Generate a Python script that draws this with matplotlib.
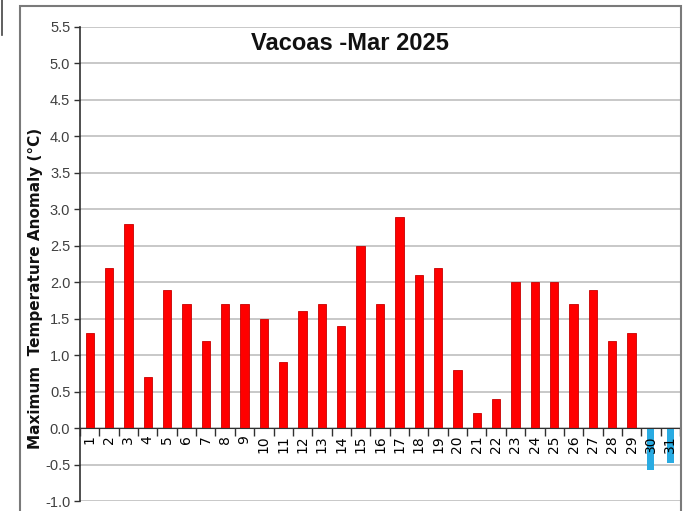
import numpy as np
import matplotlib
matplotlib.use("Agg")
import matplotlib.pyplot as plt
from matplotlib.patches import Rectangle
from matplotlib import font_manager

days = [str(d) for d in range(1, 32)]
anomaly = [1.3, 2.2, 2.8, 0.7, 1.9, 1.7, 1.2, 1.7, 1.7, 1.5,
           0.9, 1.6, 1.7, 1.4, 2.5, 1.7, 2.9, 2.1, 2.2, 0.8,
           0.2, 0.4, 2.0, 2.0, 2.0, 1.7, 1.9, 1.2, 1.3, np.nan, np.nan]
# days with no data yet, highlighted in blue under the label
missing_days = ["30", "31"]
highlight_depth = [-0.58, -0.48]
yticks = np.arange(-1.0, 5.51, 0.5)

installed = {f.name for f in font_manager.fontManager.ttflist}
narrow = [f for f in ["Liberation Sans Narrow", "Liberation Sans", "DejaVu Sans"]
          if f in installed]
tick_grey = "#404040"

fig = plt.figure(figsize=(6.83, 5.11), dpi=100)
ax = fig.add_axes([80 / 683, 1 - 501 / 511, 600 / 683, 474 / 511])

x = np.arange(len(days))
ax.bar(x, anomaly, width=0.43, color="#ff0000", edgecolor="#c80000",
       linewidth=0.6, zorder=2)

miss_x = [days.index(d) for d in missing_days]
ax.bar(miss_x, highlight_depth, width=0.36, color="#29abe2",
       linewidth=0, zorder=1)

ax.set_xlim(-0.5, len(days) - 0.5)
ax.set_ylim(-1.0, 5.5)
ax.set_xticks(np.arange(-0.5, len(days), 1.0), minor=True)
ax.tick_params(axis="x", which="major", length=0, pad=5, labelrotation=90)
ax.tick_params(axis="x", which="minor", length=6, width=1.0, color="#303030",
               direction="out")
ax.tick_params(axis="y", length=4, width=1.0, color="#303030", pad=3)

ax.set_yticks(yticks)
ax.set_yticklabels([f"{v:.1f}" for v in yticks], fontsize=10.5,
                   color=tick_grey, family=narrow)
ax.set_xticks(x)
ax.set_xticklabels(days, rotation=90, fontsize=9.5, color=tick_grey,
                   family=["Liberation Sans", "DejaVu Sans"])

ax.yaxis.grid(True, color="#c8c8c8", linewidth=1.4)
ax.yaxis.set_zorder(0.5)

# x axis line sits at zero
ax.spines["bottom"].set_position(("data", 0.0))
ax.spines["bottom"].set_color("#303030")
ax.spines["left"].set_color("#303030")
ax.spines["left"].set_linewidth(1.2)
ax.spines["top"].set_visible(False)
ax.spines["right"].set_visible(False)

ax.text(0.45, 0.966, "Vacoas -Mar 2025", transform=ax.transAxes,
        ha="center", va="center", fontsize=17, fontweight="bold",
        family=narrow, color="#111111")

fig.text(36 / 683, 1 - 288 / 511, "Maximum  Temperature Anomaly (\u00b0C)",
         rotation=90, ha="center", va="center", fontsize=11,
         fontweight="bold", color="#111111")

# outer frame of the screenshot
fig.patches.append(Rectangle((20 / 683, -0.05), 661 / 683, 1.05 - 6 / 511,
                             transform=fig.transFigure, fill=False,
                             edgecolor="#7a7a7a", linewidth=1.5))
fig.lines.append(plt.Line2D([2 / 683, 2 / 683], [1, 1 - 35 / 511],
                            transform=fig.transFigure, color="#444444",
                            linewidth=1.2))

fig.savefig("out.png", dpi=100)
